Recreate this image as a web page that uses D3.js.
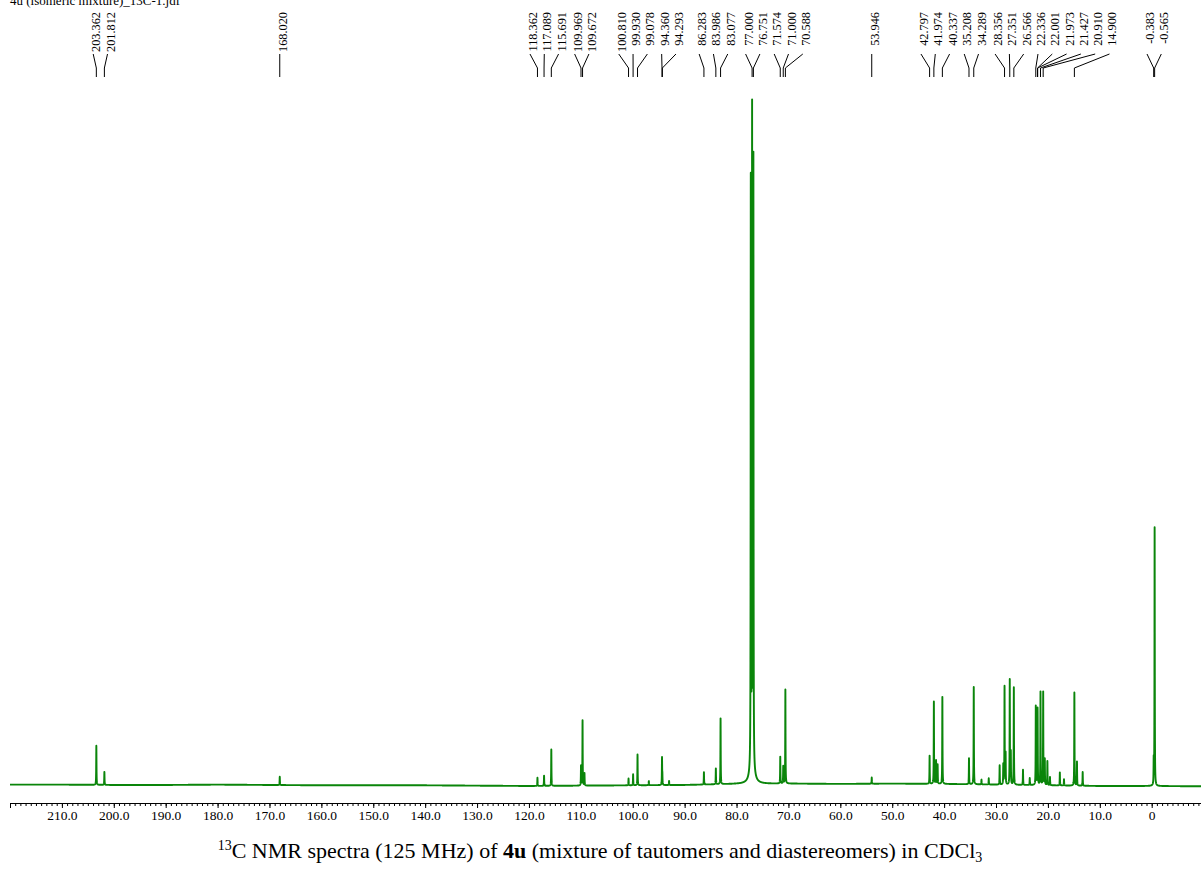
<!DOCTYPE html>
<html>
<head>
<meta charset="utf-8">
<script src="https://cdn.jsdelivr.net/npm/d3@7"></script>
<style>
  html, body { margin: 0; padding: 0; background: #fff; }
  svg { display: block; }
  text { font-family: "Liberation Serif", "Times New Roman", serif; fill: #000; }
</style>
</head>
<body>
<svg id="chart" width="1201" height="873"></svg>
<script>
// ---- spectrum data (13C, CDCl3) ----
// resonance positions in ppm
const peakPpm = [203.362, 201.812, 168.020, 118.362, 117.089, 115.691, 109.969, 109.672, 109.30,
  100.810, 99.930, 99.078, 96.90, 94.360, 94.293, 93.00, 86.283, 83.986, 83.077,
  77.254, 77.000, 76.751, 71.574, 71.000, 70.588, 53.946,
  42.797, 41.974, 41.55, 41.25, 40.337, 35.208, 34.289, 32.80, 31.40, 29.30, 28.60,
  28.356, 28.15, 27.351, 27.15, 26.566, 24.80, 23.50, 22.336, 22.001, 21.973, 21.427,
  20.910, 20.60, 20.10, 19.60, 17.70, 16.90, 14.900, 14.40, 13.30, -0.383, -0.565];
// relative intensities (tallest solvent line ~ 100)
const peakIntensity = [5.7, 1.9, 1.2, 1.2, 1.5, 5.3, 2.9, 9.5, 1.8,
  1.0, 1.6, 4.5, 0.6, 3.9, 1.3, 0.6, 1.8, 2.3, 9.6,
  85.0, 93.5, 88.0, 3.9, 2.5, 13.7, 0.9,
  4.1, 12.0, 3.4, 2.8, 12.7, 3.8, 14.2, 0.7, 0.9, 2.8, 2.9,
  14.3, 4.5, 15.3, 4.7, 14.2, 2.2, 1.0, 11.5, 8.0, 5.5, 13.6,
  13.6, 3.8, 3.5, 1.2, 1.9, 0.9, 13.6, 3.5, 2.0, 3.5, 37.7];
// broad foot under the CDCl3 triplet
const broadPpm = [77.0];
const broadIntensity = [4.0];
const broadHalfWidth = [0.35];
// baseline level along the axis
const baselinePpm = [220, 210, 200, 190, 180, 170, 160, 150, 140, 130, 120, 110, 100, 90, 80, 70, 60, 50, 40, 30, 20, 10, 0, -10];
const baselineLevel = [0.2, 0.2, 0.15, 0.15, 0.2, 0.15, 0.1, 0.1, 0.1, 0.05, 0.0, 0.05, 0.1, 0.15, 0.3, 0.35, 0.3, 0.35, 0.3, 0.2, 0.1, 0.0, 0.0, -0.05];
// chemical shifts printed above the peaks
const peakLabels = [203.362, 201.812, 168.020, 118.362, 117.089, 115.691, 109.969, 109.672,
  100.810, 99.930, 99.078, 94.360, 94.293, 86.283, 83.986, 83.077, 77.000, 76.751,
  71.574, 71.000, 70.588, 53.946, 42.797, 41.974, 40.337, 35.208, 34.289, 28.356,
  27.351, 26.566, 22.336, 22.001, 21.973, 21.427, 20.910, 14.900, -0.383, -0.565];
// axis ticks
const majorTicks = d3.range(220, -1, -10);
const minorTicks = d3.range(220, -10, -1);
const tickLabel = d => (d === 220 ? "" : d === 0 ? "0" : d.toFixed(1));

const fileTitle = "4u (isomeric mixture)_13C-1.jdf";

// ---- scales ----
const svg = d3.select("#chart");
const x = d3.scaleLinear().domain([220, -9.5]).range([10, 1201]);
const y = d3.scaleLinear().domain([0, 100]).range([786, 101]);
const baseInterp = d3.scaleLinear().domain(baselinePpm).range(baselineLevel);

const gamma = 0.03; // Lorentzian half width (ppm)
function intensityAt(p) {
  let v = baseInterp(p);
  for (let i = 0; i < peakPpm.length; i++) {
    const d = p - peakPpm[i];
    v += peakIntensity[i] * gamma * gamma / (d * d + gamma * gamma);
  }
  for (let i = 0; i < broadPpm.length; i++) {
    const d = p - broadPpm[i], g = broadHalfWidth[i];
    v += broadIntensity[i] * g * g / (d * d + g * g);
  }
  return v;
}

// sample grid plus every peak centre
const samples = d3.range(-9.5, 220.0001, 0.01).concat(peakPpm).sort((a, b) => a - b);
const spectrum = samples.map(p => [p, intensityAt(p)]);

svg.append("path")
  .datum(spectrum)
  .attr("fill", "none")
  .attr("stroke", "#0a850a")
  .attr("stroke-width", 1.9)
  .attr("stroke-linejoin", "round")
  .attr("d", d3.line().x(d => x(d[0])).y(d => y(d[1])));

// ---- axis ----
const axisY = 803;
const gMinor = svg.append("g").attr("transform", `translate(0,${axisY})`)
  .call(d3.axisBottom(x).tickValues(minorTicks).tickSize(3).tickSizeOuter(0).tickFormat(""));
gMinor.select(".domain").remove();
const gMajor = svg.append("g").attr("transform", `translate(0,${axisY})`)
  .call(d3.axisBottom(x).tickValues(majorTicks).tickSize(5).tickSizeOuter(0).tickFormat(tickLabel));
gMajor.selectAll("text")
  .attr("y", 17).attr("dy", 0)
  .style("font-family", '"Liberation Serif", "Times New Roman", serif')
  .style("font-size", "13.5px");
svg.selectAll(".tick line").attr("stroke", "#000");
gMajor.select(".domain").attr("stroke", "#000");

// ---- peak labels with leader lines ----
const spacing = 14.3;
const items = peakLabels.map(p => ({ p, x0: x(p) })).sort((a, b) => a.x0 - b.x0);
const clusters = [];
items.forEach(it => {
  const last = clusters[clusters.length - 1];
  if (last && it.x0 - last[last.length - 1].x0 < spacing) last.push(it);
  else clusters.push([it]);
});
let prevEnd = -Infinity;
clusters.forEach(c => {
  const mean = d3.mean(c, d => d.x0);
  const start = Math.max(mean - (c.length - 1) * spacing / 2, prevEnd + spacing);
  c.forEach((d, i) => { d.lx = start + i * spacing; });
  prevEnd = c[c.length - 1].lx;
});

const gLab = svg.append("g");
gLab.selectAll("path.leader").data(items).join("path")
  .attr("class", "leader")
  .attr("fill", "none")
  .attr("stroke", "#000")
  .attr("stroke-width", 1)
  .attr("d", d => `M${d.lx},54L${d.x0},68L${d.x0},77`);
gLab.selectAll("text.shift").data(items).join("text")
  .attr("class", "shift")
  .attr("transform", d => `translate(${d.lx + 7},12) rotate(-90)`)
  .attr("text-anchor", "end")
  .style("font-size", "12.3px")
  .text(d => d.p.toFixed(3));

// ---- file name (top-left) ----
svg.append("text").attr("x", 10).attr("y", 5).style("font-size", "13px").text(fileTitle);

// ---- caption ----
const cap = svg.append("text").attr("x", 600).attr("y", 858)
  .attr("text-anchor", "middle").style("font-size", "22px");
cap.append("tspan").attr("dy", -8).style("font-size", "14px").text("13");
cap.append("tspan").attr("dy", 8).text("C NMR spectra (125 MHz) of ");
cap.append("tspan").style("font-weight", "bold").text("4u");
cap.append("tspan").text(" (mixture of tautomers and diastereomers) in CDCl");
cap.append("tspan").attr("dy", 4).style("font-size", "14px").text("3");
</script>
</body>
</html>
